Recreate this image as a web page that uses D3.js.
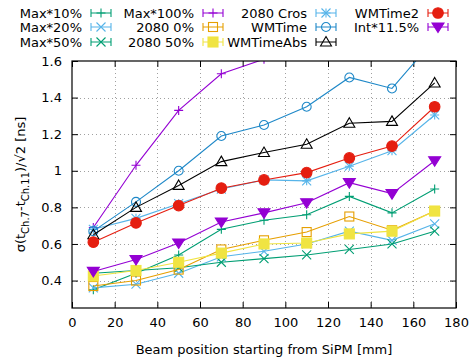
<!DOCTYPE html>
<html>
<head>
<meta charset="utf-8">
<script src="https://cdn.jsdelivr.net/npm/d3@7"></script>
<style>
  html, body { margin: 0; padding: 0; background: #fff; }
  text { font-family: 'DejaVu Sans', sans-serif; font-size: 13px; fill: #000; }
</style>
</head>
<body>
<svg id="chart" width="470" height="358"></svg>
<script>
// beam positions [mm]
const positions = [10, 30, 50, 70, 90, 110, 130, 150, 170];

// sigma values [ns]
const max10 = [0.35, 0.44, 0.54, 0.68, 0.73, 0.76, 0.86, 0.77, 0.90];
const max20 = [0.36, 0.38, 0.44, 0.53, 0.56, 0.60, 0.67, 0.62, 0.71];
const max50 = [0.44, 0.455, 0.47, 0.50, 0.52, 0.54, 0.57, 0.60, 0.67];
const max100 = [0.69, 1.03, 1.33, 1.53, 1.61, 1.72, 1.82, 1.88, 2.0];
const c2080_0 = [0.37, 0.40, 0.46, 0.57, 0.62, 0.665, 0.75, 0.675, 0.78];
const c2080_50 = [0.425, 0.455, 0.50, 0.55, 0.60, 0.605, 0.655, 0.67, 0.78];
const c2080Cros = [0.68, 0.74, 0.82, 0.90, 0.95, 0.945, 1.025, 1.11, 1.305];
const wmTime = [0.67, 0.83, 1.00, 1.19, 1.25, 1.35, 1.51, 1.45, 1.72];
const wmTimeAbs = [0.65, 0.80, 0.92, 1.05, 1.10, 1.145, 1.26, 1.27, 1.48];
const wmTime2 = [0.61, 0.715, 0.81, 0.905, 0.95, 0.99, 1.07, 1.135, 1.35];
const int115 = [0.45, 0.515, 0.605, 0.72, 0.77, 0.825, 0.935, 0.875, 1.055];

const seriesNames = ['Max*10%', 'Max*20%', 'Max*50%', 'Max*100%', '2080 0%', '2080 50%',
  '2080 Cros', 'WMTime', 'WMTimeAbs', 'WMTime2', 'Int*11.5%'];

const xTicks = [0, 20, 40, 60, 80, 100, 120, 140, 160, 180];
const yTicks = [0.4, 0.6, 0.8, 1, 1.2, 1.4, 1.6];

const series = [
  { name: seriesNames[0], values: max10, color: '#009e73', sym: 'plus' },
  { name: seriesNames[1], values: max20, color: '#56b4e9', sym: 'cross' },
  { name: seriesNames[2], values: max50, color: '#009e73', sym: 'cross' },
  { name: seriesNames[3], values: max100, color: '#9400d3', sym: 'plus' },
  { name: seriesNames[4], values: c2080_0, color: '#e69f00', sym: 'square' },
  { name: seriesNames[5], values: c2080_50, color: '#f0e442', sym: 'fsquare' },
  { name: seriesNames[6], values: c2080Cros, color: '#56b4e9', sym: 'star' },
  { name: seriesNames[7], values: wmTime, color: '#1e88c8', sym: 'circle' },
  { name: seriesNames[8], values: wmTimeAbs, color: '#000000', sym: 'triangle' },
  { name: seriesNames[9], values: wmTime2, color: '#e51e10', sym: 'fcircle' },
  { name: seriesNames[10], values: int115, color: '#9400d3', sym: 'ftriangle' },
];

const margin = { top: 61, right: 14, bottom: 50, left: 72 };
const width = 470, height = 358;

const svg = d3.select('#chart');

const x = d3.scaleLinear().domain([0, 180]).range([margin.left, width - margin.right]);
const y = d3.scaleLinear().domain([0.25, 1.6]).range([height - margin.bottom, margin.top]);

const [x0, x1] = x.range();
const [y0, y1] = y.range();

// grid
const grid = svg.append('g')
  .attr('stroke', '#a0a0a0')
  .attr('stroke-width', 1)
  .attr('stroke-dasharray', '1,3');

grid.selectAll('line.gx')
  .data(xTicks.slice(1, -1))
  .join('line')
  .attr('x1', d => Math.round(x(d)) + 0.5)
  .attr('x2', d => Math.round(x(d)) + 0.5)
  .attr('y1', y1)
  .attr('y2', y0);

grid.selectAll('line.gy')
  .data(yTicks.slice(0, -1))
  .join('line')
  .attr('class', 'gy')
  .attr('x1', x0)
  .attr('x2', x1)
  .attr('y1', d => Math.round(y(d)) + 0.5)
  .attr('y2', d => Math.round(y(d)) + 0.5);

// axes
const xAxis = svg.append('g')
  .attr('transform', `translate(0,${y0})`)
  .call(d3.axisBottom(x).tickValues(xTicks).tickSize(-6).tickPadding(10).tickFormat(d3.format('d')));
const xAxisTop = svg.append('g')
  .attr('transform', `translate(0,${y1})`)
  .call(d3.axisTop(x).tickValues(xTicks).tickSize(-6).tickFormat(''));
const yAxis = svg.append('g')
  .attr('transform', `translate(${x0},0)`)
  .call(d3.axisLeft(y).tickValues(yTicks).tickSize(-6).tickPadding(10).tickFormat(d => d3.format('')(d)));
const yAxisRight = svg.append('g')
  .attr('transform', `translate(${x1},0)`)
  .call(d3.axisRight(y).tickValues(yTicks).tickSize(-6).tickFormat(''));

[xAxis, xAxisTop, yAxis, yAxisRight].forEach(g => {
  g.select('.domain').remove();
  g.selectAll('.tick line').attr('stroke', '#000').attr('stroke-width', 1);
  g.selectAll('text').attr('font-family', 'DejaVu Sans, sans-serif').attr('font-size', 13).attr('fill', '#000');
});

// symbols
function drawSymbol(g, sym, cx, cy, color) {
  const s = 4.5;
  const p = g.append('g').attr('transform', `translate(${cx},${cy})`)
    .attr('stroke', color).attr('stroke-width', 1.1).attr('fill', 'none');
  if (sym === 'plus' || sym === 'star') {
    p.append('path').attr('d', `M${-s},0H${s}M0,${-s}V${s}`);
  }
  if (sym === 'cross' || sym === 'star') {
    p.append('path').attr('d', `M${-s},${-s}L${s},${s}M${-s},${s}L${s},${-s}`);
  }
  if (sym === 'square') {
    p.append('rect').attr('x', -s).attr('y', -s).attr('width', 2 * s).attr('height', 2 * s);
  }
  if (sym === 'fsquare') {
    p.append('rect').attr('x', -s - 0.5).attr('y', -s - 0.5).attr('width', 2 * s + 1).attr('height', 2 * s + 1)
      .attr('fill', color);
  }
  if (sym === 'circle') {
    p.append('circle').attr('r', s);
  }
  if (sym === 'fcircle') {
    p.append('circle').attr('r', s + 0.8).attr('fill', color);
  }
  if (sym === 'triangle') {
    p.append('path').attr('d', `M0,${-s - 1}L${s + 1},${s - 0.5}L${-s - 1},${s - 0.5}Z`);
  }
  if (sym === 'ftriangle') {
    p.append('path').attr('d', `M0,${s + 1}L${s + 1.5},${-s + 0.5}L${-s - 1.5},${-s + 0.5}Z`).attr('fill', color);
  }
}

// data
svg.append('clipPath').attr('id', 'plotClip')
  .append('rect').attr('x', x0).attr('y', y1).attr('width', x1 - x0).attr('height', y0 - y1);

const plot = svg.append('g').attr('clip-path', 'url(#plotClip)');
const line = d3.line().x(d => x(d[0])).y(d => y(d[1]));

series.forEach(s => {
  const pts = positions.map((p, i) => [p, s.values[i]]);
  plot.append('path')
    .datum(pts)
    .attr('d', line)
    .attr('fill', 'none')
    .attr('stroke', s.color)
    .attr('stroke-width', 1.1);
  pts.forEach(pt => drawSymbol(plot, s.sym, x(pt[0]), y(pt[1]), s.color));
});

// border
svg.append('rect')
  .attr('x', x0).attr('y', y1)
  .attr('width', x1 - x0).attr('height', y0 - y1)
  .attr('fill', 'none').attr('stroke', '#000').attr('stroke-width', 1.2);

// legend
const legendCols = [82, 194, 307, 419];
const legendRows = [13, 27, 42];
series.forEach((s, i) => {
  const col = Math.floor(i / 3), row = i % 3;
  const tx = legendCols[col], ty = legendRows[row];
  svg.append('text')
    .attr('x', tx).attr('y', ty).attr('dy', '0.35em')
    .attr('text-anchor', 'end')
    .text(s.name);
  const lx = tx + 9, rx = tx + 29;
  svg.append('path')
    .attr('d', `M${lx},${ty}H${rx}M${lx},${ty - 4}V${ty + 4}M${rx},${ty - 4}V${ty + 4}`)
    .attr('stroke', s.color).attr('stroke-width', 1.1).attr('fill', 'none');
  drawSymbol(svg, s.sym, (lx + rx) / 2, ty, s.color);
});

// axis titles
svg.append('text')
  .attr('x', (x0 + x1) / 2).attr('y', 354)
  .attr('text-anchor', 'middle')
  .text('Beam position starting from SiPM [mm]');

const yl = svg.append('text')
  .attr('transform', `translate(25,${(y0 + y1) / 2}) rotate(-90)`)
  .attr('text-anchor', 'middle');
yl.append('tspan').text('σ(t');
yl.append('tspan').attr('font-size', 10).attr('dy', 4).text('Ch.7');
yl.append('tspan').attr('dy', -4).text('-t');
yl.append('tspan').attr('font-size', 10).attr('dy', 4).text('Ch.11');
yl.append('tspan').attr('dy', -4).text(')/√2 [ns]');
</script>
</body>
</html>
